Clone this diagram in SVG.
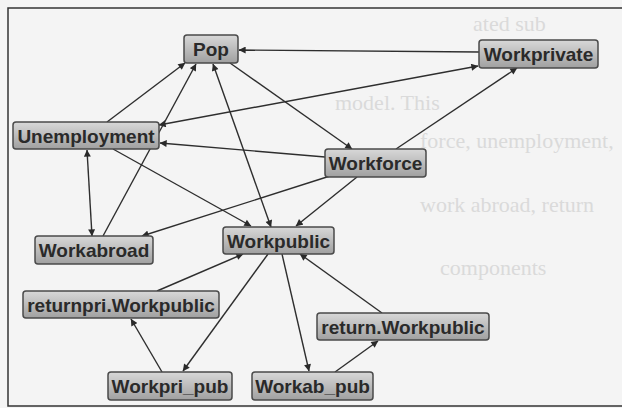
<svg xmlns="http://www.w3.org/2000/svg" width="622" height="408" viewBox="0 0 622 408">
<defs>
<linearGradient id="g" x1="0" y1="0" x2="0" y2="1">
<stop offset="0" stop-color="#d8d8d8"/>
<stop offset="1" stop-color="#a0a0a0"/>
</linearGradient>
<marker id="ah" viewBox="0 0 10 10" refX="9.5" refY="5" markerWidth="8" markerHeight="7" markerUnits="userSpaceOnUse" orient="auto-start-reverse">
<path d="M0,0 L10,5 L0,10 z" fill="#2a2a2a"/>
</marker>
<style>
.n rect{fill:url(#g);stroke:#4a4a4a;stroke-width:1.5}
.n text{font-family:"Liberation Sans",Arial,sans-serif;font-weight:bold;font-size:19px;fill:#2a2a2a;text-anchor:middle}
.e line{stroke:#2e2e2e;stroke-width:1.4;fill:none}
.a{marker-end:url(#ah)}
.b{marker-start:url(#ah);marker-end:url(#ah)}
.bg{font-family:"Liberation Serif","Times New Roman",serif;font-size:22px;fill:#dadada}
</style>
</defs>
<rect x="0" y="0" width="622" height="408" fill="#f4f4f4"/>
<g id="bleed">
<text class="bg" x="473" y="31">ated sub</text>
<text class="bg" x="335" y="110">model. This</text>
<text class="bg" x="420" y="148">force, unemployment,</text>
<text class="bg" x="420" y="212">work abroad, return</text>
<text class="bg" x="440" y="275">components</text>
</g>
<rect id="frame" x="8" y="8" width="640" height="398" fill="none" stroke="#333" stroke-width="1.5"/>
<g id="connectors" class="e">
<line class="a" x1="479" y1="52" x2="239" y2="50"/>
<line class="a" x1="107" y1="122" x2="185" y2="63"/>
<line class="a" x1="103" y1="236" x2="196" y2="64"/>
<line class="b" x1="271" y1="227" x2="213" y2="64"/>
<line class="a" x1="230" y1="63" x2="352" y2="149"/>
<line class="a" x1="396" y1="149" x2="517" y2="68"/>
<line class="b" x1="159" y1="125" x2="478" y2="66"/>
<line class="a" x1="325" y1="157" x2="160" y2="143"/>
<line class="a" x1="113" y1="149" x2="251" y2="226"/>
<line class="a" x1="330" y1="176" x2="142" y2="236"/>
<line class="a" x1="357" y1="177" x2="296" y2="226"/>
<line class="a" x1="157" y1="291" x2="243" y2="254"/>
<line class="a" x1="268" y1="254" x2="183" y2="371"/>
<line class="a" x1="162" y1="372" x2="131" y2="319"/>
<line class="a" x1="282" y1="254" x2="309" y2="371"/>
<line class="a" x1="382" y1="313" x2="300" y2="254"/>
<line class="a" x1="335" y1="372" x2="378" y2="341"/>
<line class="b" x1="87" y1="150" x2="92" y2="236"/>
</g>
<g id="n-pop" class="n"><rect x="184" y="35" width="54" height="28" rx="3"/><text x="211" y="56">Pop</text></g>
<g id="n-workprivate" class="n"><rect x="479" y="40" width="119" height="28" rx="3"/><text x="538.5" y="61">Workprivate</text></g>
<g id="n-unemployment" class="n"><rect x="13" y="122" width="146" height="27" rx="3"/><text x="86" y="142.5">Unemployment</text></g>
<g id="n-workforce" class="n"><rect x="325" y="149" width="101" height="28" rx="3"/><text x="375.5" y="170">Workforce</text></g>
<g id="n-workabroad" class="n"><rect x="35" y="236" width="118" height="28" rx="3"/><text x="94" y="257">Workabroad</text></g>
<g id="n-workpublic" class="n"><rect x="223" y="227" width="111" height="27" rx="3"/><text x="278.5" y="247.5">Workpublic</text></g>
<g id="n-returnpri" class="n"><rect x="23" y="291" width="196" height="27" rx="3"/><text x="121" y="311.5">returnpri.Workpublic</text></g>
<g id="n-return" class="n"><rect x="317" y="313" width="172" height="27" rx="3"/><text x="403" y="333.5">return.Workpublic</text></g>
<g id="n-workpri-pub" class="n"><rect x="108" y="372" width="124" height="28" rx="3"/><text x="170" y="393">Workpri_pub</text></g>
<g id="n-workab-pub" class="n"><rect x="252" y="372" width="121" height="28" rx="3"/><text x="312.5" y="393">Workab_pub</text></g>
</svg>
